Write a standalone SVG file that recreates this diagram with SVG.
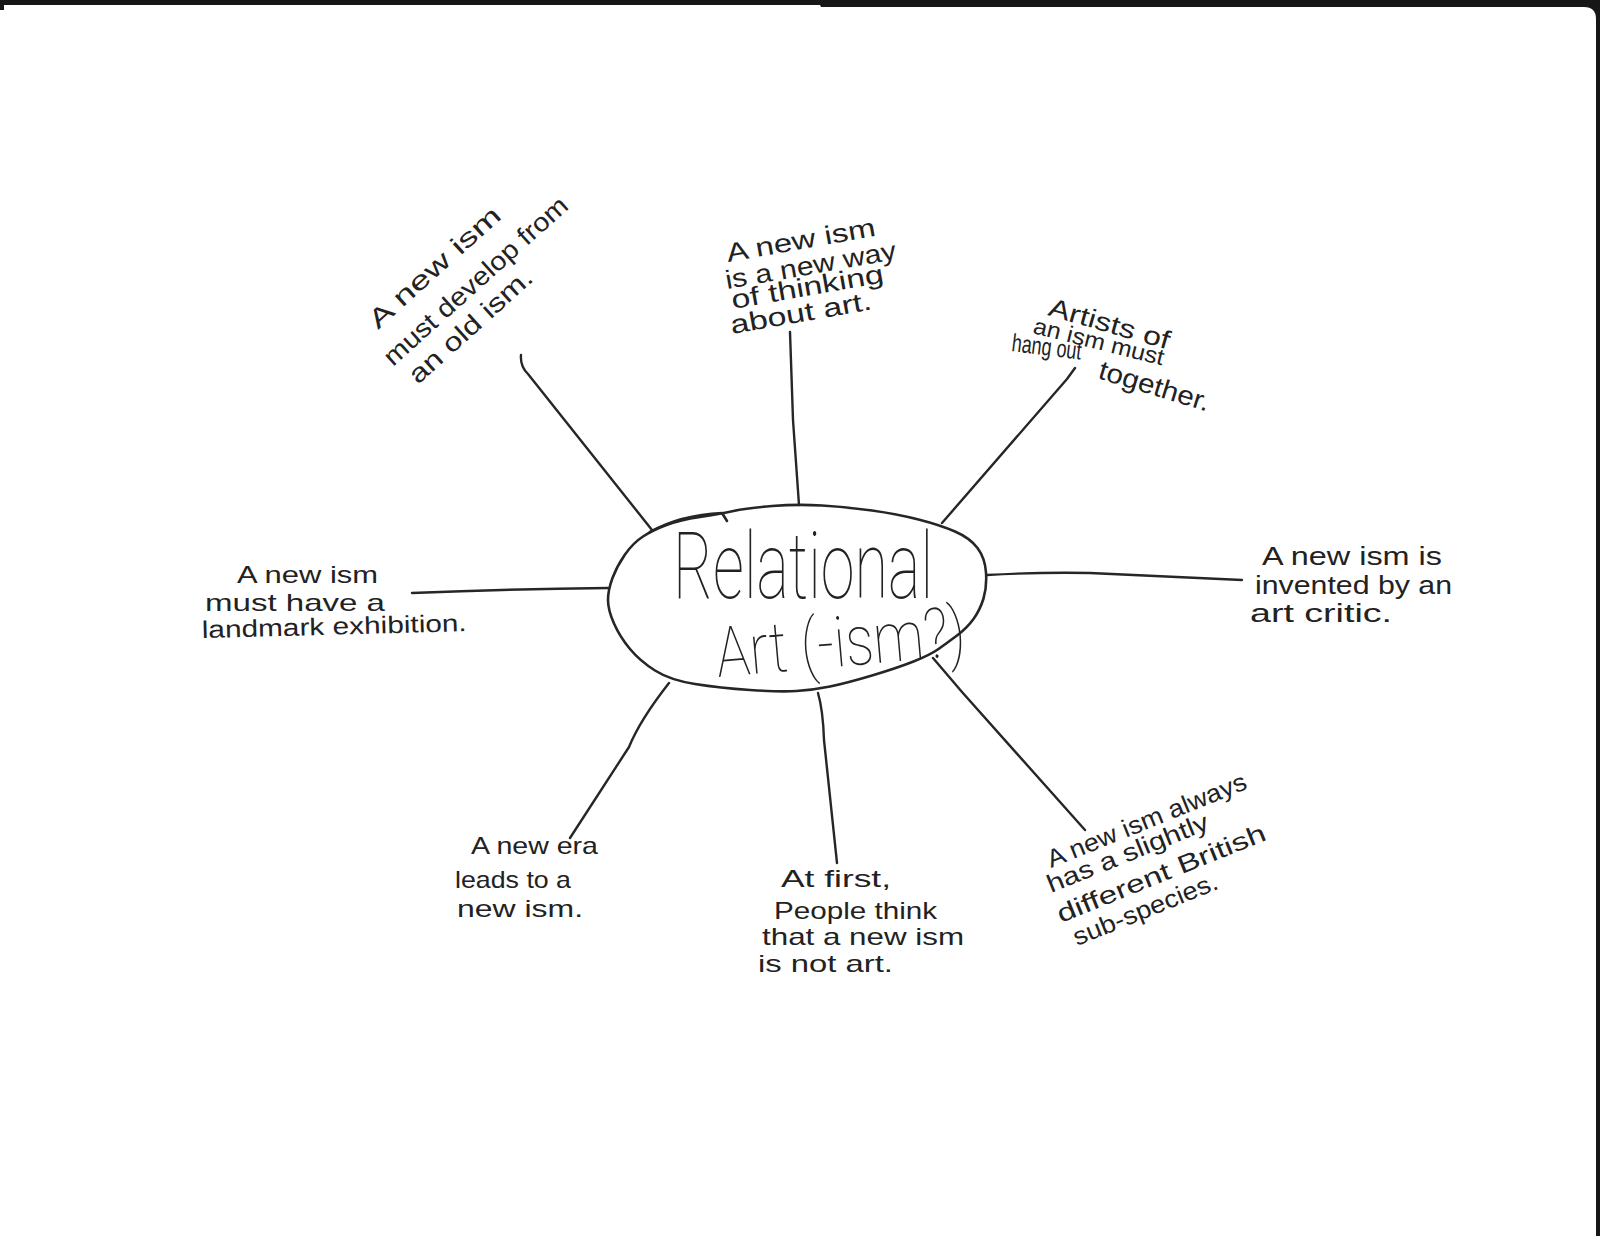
<svg xmlns="http://www.w3.org/2000/svg" width="1600" height="1236" viewBox="0 0 1600 1236">
<style>
.lbl{font-family:'Liberation Sans','DejaVu Sans',sans-serif;fill:#222;}
.title{font-family:Roboto,'Liberation Sans',sans-serif;font-weight:100;fill:#222;}
.con{fill:none;stroke:#262626;stroke-width:2.4;stroke-linecap:round;stroke-linejoin:round;}
.oval{fill:none;stroke:#262626;stroke-width:2.6;stroke-linecap:round;stroke-linejoin:round;}
</style>
<rect width="1600" height="1236" fill="#161616"/>
<path d="M4,5 L820,5 L821,7 L1584,7 Q1596,7 1596,19 L1596,1236 L0,1236 L0,10 L4,10 Z" fill="#ffffff"/>

<g id="connectors">
<path class="con" d="M521,355 Q520,366 528,374 L652,530"/>
<path class="con" d="M790,332 L793,420 L799,505"/>
<path class="con" d="M1075,368 L1067,379 L942,523"/>
<path class="con" d="M412,593 Q510,589 608,588"/>
<path class="con" d="M987,575 Q1040,572 1090,573 Q1160,576 1242,580"/>
<path class="con" d="M669,683 Q640,720 629,747 L570,838"/>
<path class="con" d="M818,693 Q823,710 824,740 L837,863"/>
<path class="con" d="M933,658 L962,692 L1085,830"/>
</g>

<g id="node-center">
<path class="oval" d="M612.5,578 Q617,566 625,554.5 Q633,543 643,536.5 Q653,530 666.5,525 Q680,520 700,517 Q720,514 733.5,511 Q747,508 772,506 Q797,504 822,505.5 Q847,507 872,510.5 Q897,514 918.5,519.5 Q940,525 955,531.5 Q970,538 977.5,548 Q985,558 986,572.5 Q987,587 983.5,598.5 Q980,610 973.5,619 Q967,628 957,635.5 Q947,643 938.5,649 Q930,655 913.5,661.5 Q897,668 872,675.5 Q847,683 830,686.5 Q813,690 796.5,691 Q780,692 750,690 Q720,688 695,684 Q670,680 655,670.5 Q640,661 630,649 Q620,637 614,623.5 Q608,610 608,600 Q608,590 612.5,578 Z"/>
<path class="oval" d="M650,532 Q680,515 722,513 L727,521"/>
<text class="title" x="673" y="598" font-size="93" textLength="260" lengthAdjust="spacingAndGlyphs">Relational</text>
<text class="title" x="718" y="677" font-size="70" textLength="250" lengthAdjust="spacingAndGlyphs" transform="rotate(-5 718 677)">Art (-ism?)</text>
</g>

<g id="node-upper-left">
<text class="lbl" x="378" y="330" font-size="26" textLength="168" lengthAdjust="spacingAndGlyphs" transform="rotate(-42 378 330)">A new ism</text>
<text class="lbl" x="393" y="367" font-size="26" textLength="238" lengthAdjust="spacingAndGlyphs" transform="rotate(-42 393 367)">must develop from</text>
<text class="lbl" x="418" y="385" font-size="26" textLength="157" lengthAdjust="spacingAndGlyphs" transform="rotate(-42 418 385)">an old ism.</text>
</g>

<g id="node-top">
<text class="lbl" x="728" y="262" font-size="26" textLength="151" lengthAdjust="spacingAndGlyphs" transform="rotate(-10 728 262)">A new ism</text>
<text class="lbl" x="727" y="289" font-size="26" textLength="173" lengthAdjust="spacingAndGlyphs" transform="rotate(-10 727 289)">is a new way</text>
<text class="lbl" x="733" y="309" font-size="26" textLength="154" lengthAdjust="spacingAndGlyphs" transform="rotate(-10 733 309)">of thinking</text>
<text class="lbl" x="732" y="334" font-size="26" textLength="143" lengthAdjust="spacingAndGlyphs" transform="rotate(-10 732 334)">about art.</text>
</g>

<g id="node-upper-right">
<text class="lbl" x="1047" y="315" font-size="26" textLength="125" lengthAdjust="spacingAndGlyphs" transform="rotate(16 1047 315)">Artists of</text>
<text class="lbl" x="1032" y="333" font-size="23" textLength="134" lengthAdjust="spacingAndGlyphs" transform="rotate(14 1032 333)">an ism must</text>
<text class="lbl" x="1011" y="351" font-size="25" textLength="70" lengthAdjust="spacingAndGlyphs" transform="rotate(7 1011 351)">hang out</text>
<text class="lbl" x="1097" y="378" font-size="27" textLength="115" lengthAdjust="spacingAndGlyphs" transform="rotate(17 1097 378)">together.</text>
</g>

<g id="node-left">
<text class="lbl" x="237" y="583" font-size="24" textLength="141" lengthAdjust="spacingAndGlyphs">A new ism</text>
<text class="lbl" x="205" y="611" font-size="24" textLength="180" lengthAdjust="spacingAndGlyphs">must have a</text>
<text class="lbl" x="202" y="638" font-size="24" textLength="265" lengthAdjust="spacingAndGlyphs" transform="rotate(-1.5 202 638)">landmark exhibition.</text>
</g>

<g id="node-right">
<text class="lbl" x="1262" y="565" font-size="25" textLength="180" lengthAdjust="spacingAndGlyphs">A new ism is</text>
<text class="lbl" x="1255" y="594" font-size="25" textLength="197" lengthAdjust="spacingAndGlyphs">invented by an</text>
<text class="lbl" x="1250" y="622" font-size="25" textLength="142" lengthAdjust="spacingAndGlyphs">art critic.</text>
</g>

<g id="node-lower-left">
<text class="lbl" x="471" y="854" font-size="24" textLength="127" lengthAdjust="spacingAndGlyphs">A new era</text>
<text class="lbl" x="455" y="888" font-size="24" textLength="116" lengthAdjust="spacingAndGlyphs">leads to a</text>
<text class="lbl" x="457" y="917" font-size="24" textLength="126" lengthAdjust="spacingAndGlyphs">new ism.</text>
</g>

<g id="node-bottom">
<text class="lbl" x="781" y="887" font-size="24" textLength="110" lengthAdjust="spacingAndGlyphs">At first,</text>
<text class="lbl" x="774" y="919" font-size="24" textLength="163" lengthAdjust="spacingAndGlyphs">People think</text>
<text class="lbl" x="762" y="945" font-size="24" textLength="202" lengthAdjust="spacingAndGlyphs">that a new ism</text>
<text class="lbl" x="758" y="972" font-size="24" textLength="135" lengthAdjust="spacingAndGlyphs">is not art.</text>
</g>

<g id="node-lower-right">
<text class="lbl" x="1051" y="868" font-size="25" textLength="213" lengthAdjust="spacingAndGlyphs" transform="rotate(-22 1051 868)">A new ism always</text>
<text class="lbl" x="1051" y="893" font-size="25" textLength="172" lengthAdjust="spacingAndGlyphs" transform="rotate(-22 1051 893)">has a slightly</text>
<text class="lbl" x="1061" y="923" font-size="25" textLength="223" lengthAdjust="spacingAndGlyphs" transform="rotate(-22 1061 923)">different British</text>
<text class="lbl" x="1077" y="946" font-size="25" textLength="154" lengthAdjust="spacingAndGlyphs" transform="rotate(-22 1077 946)">sub-species.</text>
</g>
</svg>
